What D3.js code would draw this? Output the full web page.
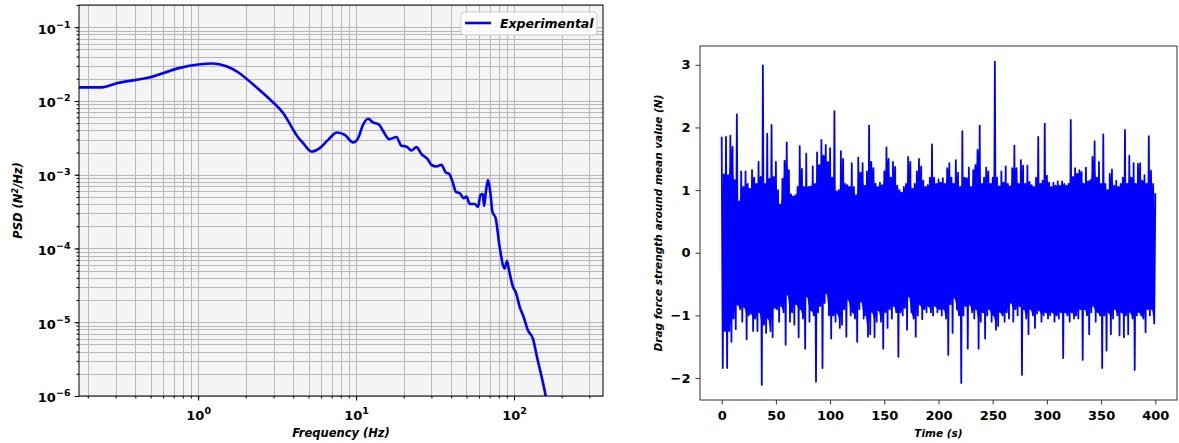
<!DOCTYPE html>
<html>
<head>
<meta charset="utf-8">
<script src="https://cdn.jsdelivr.net/npm/d3@7"></script>
<style>
body { margin: 0; background: #fff; }
text { font-family: "DejaVu Sans", sans-serif; font-weight: bold; }
</style>
</head>
<body>
<svg id="fig" width="1179" height="443"></svg>
<script>
// ---- left panel: power spectral density ----
var psdFreq = [0.176, 0.245, 0.305, 0.495, 0.766, 1.0, 1.24, 1.51, 1.79, 2.23, 2.71, 3.45, 4.3, 4.62, 5.22, 5.89, 6.65, 7.58, 8.48, 9.57, 10.3, 11.07, 11.9, 12.8, 14.0, 14.8, 16.2, 18.0, 19.4, 20.8, 22.4, 24.1, 25.9, 28.6, 30.0, 32.3, 34.7, 37.0, 38.8, 40.8, 42.8, 45.4, 48.1, 50.0, 52.5, 56.4, 59.2, 61.3, 63.5, 64.6, 66.2, 68.4, 70.9, 73.0, 76.6, 81.1, 87.3, 90.3, 93.0, 98.6, 102.5, 108.7, 115.2, 122.7, 131.9, 139.9, 149.0, 158.7, 166];
var psdVal = [0.0153, 0.0153, 0.0174, 0.0209, 0.0281, 0.0312, 0.0322, 0.0296, 0.0245, 0.0167, 0.01156, 0.00687, 0.0032, 0.00268, 0.00206, 0.00229, 0.00297, 0.00374, 0.00347, 0.00274, 0.00314, 0.00476, 0.00574, 0.00512, 0.00476, 0.00395, 0.00304, 0.00324, 0.00247, 0.00242, 0.00213, 0.00237, 0.00192, 0.00159, 0.00136, 0.00129, 0.00136, 0.00107, 0.00103, 0.000806, 0.000589, 0.00056, 0.000479, 0.000504, 0.000401, 0.000401, 0.000368, 0.000531, 0.000548, 0.000376, 0.00056, 0.000849, 0.00056, 0.000315, 0.000256, 0.000105, 5.35e-5, 6.78e-5, 5.07e-5, 3.0e-5, 2.57e-5, 1.61e-5, 1.17e-5, 7.7e-6, 5.97e-6, 3.35e-6, 1.89e-6, 1.0e-6, 5.5e-7];
var psdMajorExp = [-6, -5, -4, -3, -2, -1];
var freqMajorExp = [0, 1, 2];

// ---- right panel: drag force time series (peaks at even seconds, troughs at odd seconds) ----
var forcePeaks = [1.85, 1.25, 1.85, 1.24, 1.87, 1.69, 1.16, 2.21, 0.82, 1.30,
  1.05, 1.30, 1.10, 1.02, 1.32, 1.20, 1.10, 1.45, 1.21, 2.99,
  1.10, 1.90, 1.18, 2.04, 1.21, 1.45, 1.00, 0.77, 1.18, 1.47,
  1.76, 1.32, 0.93, 0.90, 0.92, 1.05, 1.70, 1.34, 1.05, 1.58,
  1.05, 1.06, 1.38, 1.10, 1.60, 1.40, 1.80, 1.55, 1.72, 1.45,
  1.67, 1.20, 2.26, 0.98, 1.00, 1.62, 1.50, 1.10, 1.08, 1.05,
  1.43, 1.05, 0.92, 1.52, 1.28, 1.43, 1.07, 1.30, 2.03, 1.45,
  1.35, 1.10, 1.05, 1.12, 1.08, 1.30, 1.68, 1.50, 1.20, 1.45,
  1.37, 1.07, 1.00, 0.96, 1.05, 1.10, 1.53, 1.45, 1.02, 1.10,
  1.30, 1.50, 1.38, 1.15, 1.05, 1.08, 1.20, 1.73, 1.20, 1.10,
  1.17, 1.12, 1.19, 1.10, 1.35, 1.43, 1.20, 1.10, 1.48, 1.28,
  1.05, 1.94, 1.20, 1.19, 1.36, 1.05, 1.32, 1.40, 1.64, 2.03,
  1.10, 1.20, 1.36, 1.30, 1.10, 1.20, 3.05, 1.20, 1.06, 1.30,
  1.12, 1.38, 1.10, 1.06, 1.35, 1.71, 1.35, 1.10, 1.48, 1.39,
  1.10, 1.39, 1.13, 1.08, 1.05, 1.20, 1.85, 1.10, 1.15, 2.06,
  1.23, 1.12, 1.05, 1.12, 1.07, 1.14, 1.07, 1.14, 1.10, 1.07,
  1.10, 2.12, 1.21, 1.35, 1.26, 1.32, 1.29, 1.10, 1.36, 1.14,
  1.16, 1.53, 1.78, 1.20, 1.45, 1.10, 1.89, 1.10, 1.00, 1.26,
  1.33, 1.07, 1.15, 1.05, 1.10, 1.20, 1.96, 1.10, 1.55, 1.20,
  1.43, 1.10, 1.42, 1.43, 1.15, 1.24, 1.10, 1.86, 1.31, 1.10,
  0.95];
var forceTroughs = [-1.84, -1.25, -1.84, -1.25, -1.42, -1.05, -1.22, -0.83, -0.90, -1.10,
  -0.87, -1.38, -1.00, -0.97, -1.25, -1.05, -1.25, -0.95, -2.11, -1.15,
  -1.28, -1.05, -1.25, -1.35, -0.88, -0.90, -1.10, -0.85, -0.95, -1.47,
  -0.67, -1.10, -0.95, -1.15, -0.82, -1.35, -0.90, -1.05, -1.53, -0.70,
  -1.10, -0.92, -1.00, -2.06, -0.95, -0.85, -1.84, -0.80, -0.65, -1.00,
  -1.37, -1.00, -1.10, -0.97, -1.20, -1.15, -0.90, -1.34, -0.75, -1.00,
  -0.95, -1.05, -1.42, -0.90, -0.78, -1.05, -1.00, -1.34, -1.30, -0.95,
  -1.35, -1.10, -0.92, -1.10, -1.53, -0.95, -1.20, -0.90, -1.05, -0.85,
  -0.95, -1.66, -0.95, -1.00, -0.88, -1.23, -0.70, -0.95, -1.05, -1.34,
  -1.00, -0.83, -1.06, -0.90, -0.95, -0.85, -0.95, -1.00, -0.85, -0.95,
  -0.90, -1.00, -0.90, -1.05, -1.63, -0.82, -1.28, -0.72, -0.90, -1.00,
  -2.08, -1.00, -0.85, -1.53, -0.83, -0.95, -1.05, -0.90, -1.53, -1.10,
  -0.95, -1.37, -1.00, -0.90, -1.10, -1.00, -1.23, -1.17, -0.95, -1.00,
  -1.10, -0.95, -1.05, -0.80, -1.10, -0.90, -1.00, -0.85, -1.95, -0.90,
  -1.05, -1.30, -0.90, -1.00, -1.20, -0.97, -0.92, -1.10, -1.00, -0.95,
  -1.05, -1.00, -0.95, -1.10, -1.00, -1.05, -0.95, -1.68, -0.95, -1.00,
  -1.10, -0.95, -1.05, -1.00, -1.05, -0.90, -1.71, -0.90, -1.00, -1.30,
  -0.95, -0.85, -1.10, -0.95, -1.00, -1.84, -1.00, -1.56, -0.95, -1.30,
  -1.05, -0.90, -1.00, -1.32, -0.95, -1.35, -1.00, -1.30, -0.95, -1.05,
  -1.87, -1.00, -0.95, -1.00, -1.05, -1.27, -0.90, -1.00, -0.90, -1.13];
var timeTicks = [0, 50, 100, 150, 200, 250, 300, 350, 400];
var forceTicks = [-2, -1, 0, 1, 2, 3];

var svg = d3.select("#fig");
var defs = svg.append("defs");

// helper: write 10^n with a real superscript
function powLabel(sel) {
  sel.each(function(d) {
    var t = d3.select(this).text("");
    t.append("tspan").text("10");
    t.append("tspan").attr("dy", -6).style("font-size", "9.5px")
      .text(String(d).replace("-", "\u2212"));
  });
}

// ================= left panel =================
var L = {x0: 79, x1: 603, y0: 5, y1: 396};
var fx = d3.scaleLog().domain([0.176, 366]).range([L.x0, L.x1]);
var fy = d3.scaleLog().domain([1e-6, 0.2]).range([L.y1, L.y0]);

defs.append("clipPath").attr("id", "clipL")
  .append("rect").attr("x", L.x0).attr("y", L.y0).attr("width", L.x1 - L.x0).attr("height", L.y1 - L.y0);

svg.append("rect").attr("x", L.x0).attr("y", L.y0)
  .attr("width", L.x1 - L.x0).attr("height", L.y1 - L.y0)
  .style("fill", "#f4f4f4");

var gridL = svg.append("g").style("stroke", "#b8b8b8").style("stroke-width", 1);
gridL.selectAll(".gx").data(fx.ticks()).enter().append("line")
  .attr("x1", function(d) { return Math.round(fx(d)) + 0.5; })
  .attr("x2", function(d) { return Math.round(fx(d)) + 0.5; })
  .attr("y1", L.y0).attr("y2", L.y1);
gridL.selectAll(".gy").data(fy.ticks()).enter().append("line")
  .attr("y1", function(d) { return Math.round(fy(d)) + 0.5; })
  .attr("y2", function(d) { return Math.round(fy(d)) + 0.5; })
  .attr("x1", L.x0).attr("x2", L.x1);

var psd = psdFreq.map(function(f, i) { return {f: f, p: psdVal[i]}; });
svg.append("path").datum(psd)
  .attr("clip-path", "url(#clipL)")
  .attr("d", d3.line().x(function(d) { return fx(d.f); }).y(function(d) { return fy(d.p); })
    .curve(d3.curveMonotoneX))
  .style("fill", "none").style("stroke", "#0000ff").style("stroke-width", 2.6)
  .style("stroke-linejoin", "round");

// axes: minor ticks, then major ticks with labels
var mBL = svg.append("g").attr("transform", "translate(0," + L.y1 + ")")
  .call(d3.axisBottom(fx).tickValues(fx.ticks()).tickSize(2.5).tickFormat(""));
var mLL = svg.append("g").attr("transform", "translate(" + L.x0 + ",0)")
  .call(d3.axisLeft(fy).tickValues(fy.ticks()).tickSize(2.5).tickFormat(""));

var axBL = svg.append("g").attr("transform", "translate(0," + L.y1 + ")")
  .call(d3.axisBottom(fx).tickValues(freqMajorExp.map(function(e) { return Math.pow(10, e); }))
    .tickSize(4.5).tickPadding(10));
axBL.selectAll("text").data(freqMajorExp).style("font-size", "13px").call(powLabel);
var axLL = svg.append("g").attr("transform", "translate(" + L.x0 + ",0)")
  .call(d3.axisLeft(fy).tickValues(psdMajorExp.map(function(e) { return Math.pow(10, e); }))
    .tickSize(4.5).tickPadding(4));
axLL.selectAll("text").data(psdMajorExp).style("font-size", "13px").attr("dy", "0.45em").call(powLabel);
[mBL, mLL, axBL, axLL].forEach(function(a) {
  a.select(".domain").remove();
  a.selectAll("line").style("stroke", "#000");
  a.selectAll("text").style("fill", "#000");
});

svg.append("rect").attr("x", L.x0).attr("y", L.y0)
  .attr("width", L.x1 - L.x0).attr("height", L.y1 - L.y0)
  .style("fill", "none").style("stroke", "#000").style("stroke-width", 1);

// legend
var leg = svg.append("g");
leg.append("rect").attr("x", 461).attr("y", 12).attr("width", 136).attr("height", 23).attr("rx", 3)
  .style("fill", "#fff").style("fill-opacity", 0.85).style("stroke", "#cccccc");
leg.append("line").attr("x1", 465).attr("x2", 491).attr("y1", 23).attr("y2", 23)
  .style("stroke", "#0000ff").style("stroke-width", 2.6);
leg.append("text").attr("x", 500).attr("y", 27.5).style("font-size", "12.5px").style("font-style", "italic")
  .text("Experimental");

// axis titles
svg.append("text").attr("x", (L.x0 + L.x1) / 2).attr("y", 437).attr("text-anchor", "middle")
  .style("font-size", "11.5px").style("font-style", "italic").text("Frequency (Hz)");
var yt = svg.append("text").attr("transform", "translate(22," + ((L.y0 + L.y1) / 2) + ") rotate(-90)")
  .attr("text-anchor", "middle").style("font-size", "11.5px").style("font-style", "italic");
yt.append("tspan").text("PSD (N");
yt.append("tspan").attr("dy", -4).style("font-size", "8px").text("2");
yt.append("tspan").attr("dy", 4).text("/Hz)");

// ================= right panel =================
var R = {x0: 700, x1: 1177, y0: 46, y1: 400};
var tx = d3.scaleLinear().domain([-20, 420]).range([R.x0, R.x1]);
var ty = d3.scaleLinear().domain([-2.35, 3.30]).range([R.y1, R.y0]);

defs.append("clipPath").attr("id", "clipR")
  .append("rect").attr("x", R.x0).attr("y", R.y0).attr("width", R.x1 - R.x0).attr("height", R.y1 - R.y0);

var series = [];
forcePeaks.forEach(function(v, i) {
  series.push({t: 2 * i, v: v});
  if (i < forceTroughs.length) series.push({t: 2 * i + 1, v: forceTroughs[i]});
});

// dense core of the signal: the band the zig-zag sweeps between neighbouring extremes
var core = forceTroughs.map(function(lo, i) {
  var loNext = i + 1 < forceTroughs.length ? forceTroughs[i + 1] : lo;
  return {t: 2 * i + 1,
          hi: Math.min(forcePeaks[i], forcePeaks[i + 1]),
          lo: Math.max(lo, loNext)};
});
svg.append("path").datum(core)
  .attr("clip-path", "url(#clipR)")
  .attr("d", d3.area().x(function(d) { return tx(d.t); })
    .y0(function(d) { return ty(d.lo); }).y1(function(d) { return ty(d.hi); }))
  .style("fill", "#0000ff");

svg.append("path").datum(series)
  .attr("clip-path", "url(#clipR)")
  .attr("d", d3.line().x(function(d) { return tx(d.t); }).y(function(d) { return ty(d.v); }))
  .style("fill", "none").style("stroke", "#0000ff").style("stroke-width", 1.8)
  .style("stroke-linejoin", "round");

var axBR = svg.append("g").attr("transform", "translate(0," + R.y1 + ")")
  .call(d3.axisBottom(tx).tickValues(timeTicks).tickSize(4.5).tickPadding(6).tickFormat(d3.format("d")));
var axLR = svg.append("g").attr("transform", "translate(" + R.x0 + ",0)")
  .call(d3.axisLeft(ty).tickValues(forceTicks).tickSize(4.5).tickPadding(5)
    .tickFormat(function(d) { return String(d).replace("-", "\u2212"); }));
[axBR, axLR].forEach(function(a) {
  a.select(".domain").remove();
  a.selectAll("line").style("stroke", "#333");
  a.selectAll("text").style("font-size", "13px").style("fill", "#000");
});

svg.append("rect").attr("x", R.x0).attr("y", R.y0)
  .attr("width", R.x1 - R.x0).attr("height", R.y1 - R.y0)
  .style("fill", "none").style("stroke", "#333").style("stroke-width", 1);

svg.append("text").attr("x", (R.x0 + R.x1) / 2).attr("y", 437).attr("text-anchor", "middle")
  .style("font-size", "10.5px").style("font-style", "italic").text("Time (s)");
svg.append("text").attr("transform", "translate(662," + ((R.y0 + R.y1) / 2) + ") rotate(-90)")
  .attr("text-anchor", "middle").style("font-size", "10.5px").style("font-style", "italic")
  .text("Drag force strength around mean value (N)");
</script>
</body>
</html>
